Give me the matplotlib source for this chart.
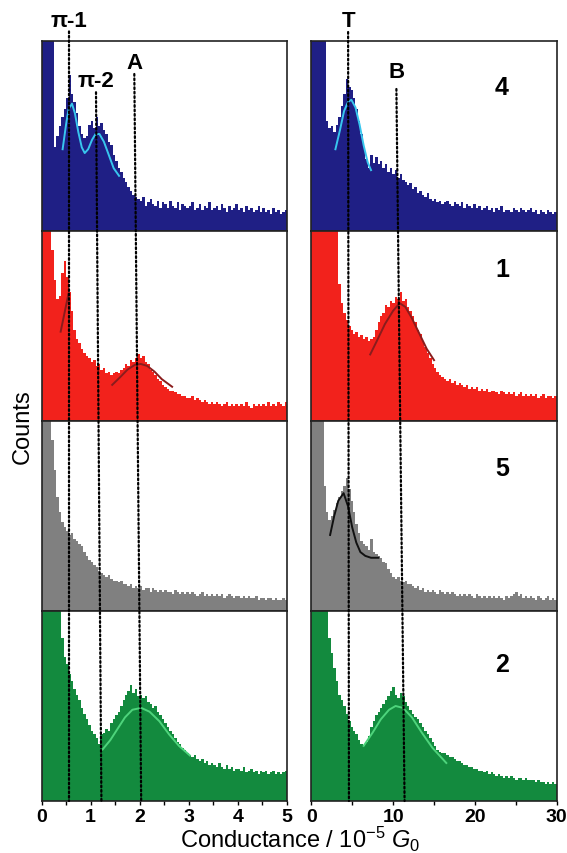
import numpy as np
import matplotlib
matplotlib.use('Agg')
from matplotlib import pyplot as plt
from matplotlib.patches import ConnectionPatch
from matplotlib.transforms import blended_transform_factory as blend

plt.rcParams['font.family'] = ['Liberation Sans', 'DejaVu Sans']
plt.rcParams['mathtext.fontset'] = 'custom'
plt.rcParams['mathtext.rm'] = 'Liberation Sans'
plt.rcParams['mathtext.it'] = 'Liberation Sans:italic'

# counts in % of panel height (clipped at 100), 100 bins per panel
navy_left = [100, 100, 100, 100, 100, 44, 50, 55, 60, 64,
             70, 82, 72, 68, 62, 55, 51, 49, 50, 56,
             58, 54, 60, 55, 57, 53, 51, 47, 45, 40,
             37, 33, 31, 28, 26, 23, 21, 19, 18, 17,
             16, 18, 13, 15, 17, 14, 13, 16, 12, 15,
             14, 12, 16, 13, 12, 15, 11, 14, 13, 12,
             13, 15, 11, 12, 14, 11, 13, 12, 15, 11,
             12, 13, 11, 14, 12, 10, 13, 11, 12, 14,
             11, 12, 10, 13, 11, 12, 10, 11, 13, 10,
             12, 10, 11, 9, 12, 10, 11, 9, 10, 11]
navy_right = [100, 100, 100, 100, 100, 100, 58, 54, 55, 52,
              56, 60, 66, 72, 80, 76, 74, 70, 64, 58,
              51, 44, 38, 33, 40, 36, 39, 35, 37, 33,
              35, 31, 33, 30, 32, 28, 30, 27, 26, 24,
              25, 22, 23, 20, 21, 19, 18, 20, 17, 16,
              17, 15, 16, 14, 15, 16, 14, 13, 15, 14,
              13, 15, 12, 14, 13, 12, 14, 12, 13, 11,
              12, 13, 11, 12, 10, 12, 11, 13, 10, 11,
              11, 10, 12, 11, 10, 12, 11, 10, 11, 12,
              10, 11, 9, 11, 10, 9, 11, 10, 9, 10]
red_left = [100, 100, 100, 100, 90, 74, 64, 66, 78, 84,
            76, 68, 58, 48, 43, 41, 38, 36, 34, 33,
            31, 32, 29, 30, 27, 28, 25, 26, 24, 25,
            26, 25, 27, 28, 30, 29, 32, 31, 33, 35,
            33, 34, 31, 30, 27, 26, 24, 22, 21, 19,
            18, 17, 16, 16, 15, 14, 14, 13, 13, 12,
            12, 13, 11, 12, 11, 10, 11, 10, 9, 10,
            9, 10, 9, 8, 9, 10, 8, 9, 8, 9,
            8, 9, 8, 10, 8, 7, 9, 8, 9, 8,
            9, 8, 10, 8, 9, 8, 10, 9, 8, 10]
red_right = [100, 100, 100, 100, 100, 100, 100, 100, 100, 100,
             100, 72, 62, 57, 53, 50, 48, 46, 47, 44,
             45, 43, 44, 42, 43, 44, 48, 52, 55, 57,
             61, 60, 63, 62, 65, 64, 68, 63, 64, 60,
             58, 55, 52, 48, 46, 42, 39, 36, 33, 30,
             28, 26, 24, 23, 22, 21, 22, 20, 21, 19,
             20, 19, 18, 19, 17, 18, 17, 18, 16, 17,
             16, 17, 15, 16, 16, 15, 14, 16, 15, 14,
             15, 14, 15, 13, 14, 15, 13, 14, 13, 14,
             13, 14, 12, 13, 14, 12, 13, 13, 12, 13]
gray_left = [100, 100, 100, 100, 90, 74, 60, 52, 47, 44,
             42, 40, 41, 38, 37, 35, 34, 31, 29, 27,
             26, 24, 23, 21, 20, 19, 18, 19, 17, 16,
             16, 15, 16, 14, 14, 13, 14, 12, 13, 12,
             13, 11, 12, 12, 10, 12, 11, 10, 11, 10,
             11, 10, 10, 9, 11, 10, 9, 10, 9, 10,
             9, 10, 9, 8, 9, 10, 8, 9, 8, 9,
             8, 9, 8, 9, 7, 8, 9, 8, 7, 8,
             8, 7, 8, 7, 8, 7, 7, 8, 6, 7,
             7, 6, 7, 7, 6, 7, 6, 6, 7, 6]
gray_right = [100, 100, 100, 100, 100, 66, 52, 48, 50, 53,
              57, 60, 63, 66, 70, 64, 58, 52, 46, 41,
              37, 35, 34, 32, 38, 31, 30, 29, 28, 26,
              25, 22, 20, 18, 17, 18, 16, 15, 16, 14,
              14, 13, 12, 13, 11, 12, 10, 11, 10, 11,
              10, 9, 11, 10, 9, 10, 9, 10, 9, 8,
              9, 8, 9, 8, 9, 8, 7, 9, 8, 7,
              8, 7, 8, 7, 8, 7, 8, 7, 6, 8,
              7, 8, 9, 10, 8, 9, 7, 8, 7, 8,
              7, 6, 8, 7, 6, 7, 8, 6, 7, 6]
green_left = [100, 100, 100, 100, 100, 100, 100, 100, 86, 76,
              72, 67, 63, 59, 56, 53, 49, 46, 43, 40,
              37, 35, 33, 30, 35, 36, 38, 37, 41, 43,
              45, 47, 50, 53, 56, 58, 61, 57, 59, 55,
              56, 54, 55, 52, 51, 49, 50, 47, 45, 43,
              41, 39, 37, 35, 33, 31, 30, 28, 27, 25,
              24, 23, 24, 22, 21, 22, 20, 21, 19, 20,
              19, 18, 20, 18, 17, 19, 17, 18, 16, 17,
              17, 16, 18, 15, 16, 17, 15, 16, 14, 16,
              15, 16, 14, 15, 16, 14, 15, 14, 15, 16]
green_right = [100, 100, 100, 100, 100, 100, 100, 86, 78, 70,
               63, 56, 53, 50, 46, 42, 39, 37, 35, 32,
               30, 29, 31, 34, 39, 42, 45, 47, 49, 51,
               53, 55, 58, 60, 56, 54, 57, 55, 52, 50,
               48, 46, 44, 43, 41, 39, 37, 35, 33, 31,
               29, 27, 26, 25, 25, 24, 23, 23, 22, 21,
               21, 20, 19, 19, 18, 18, 17, 17, 16, 16,
               15, 16, 14, 15, 14, 13, 14, 13, 12, 13,
               12, 13, 12, 11, 12, 12, 11, 12, 11, 11,
               11, 10, 11, 10, 10, 9, 10, 9, 10, 9]

# fitted peaks (x, % of height)
fit_navy_left_x = [0.43, 0.5, 0.55, 0.62, 0.68, 0.75, 0.82, 0.88, 0.95, 1.03, 1.1, 1.18, 1.27, 1.37, 1.47, 1.58]
fit_navy_left_y = [43, 56, 64, 67, 62, 52, 44, 41, 43, 48, 51, 51, 47, 40, 33, 29]
fit_navy_right_x = [2.95, 3.5, 4.0, 4.5, 4.9, 5.4, 5.9, 6.4, 6.9, 7.3]
fit_navy_right_y = [43, 53, 63, 68, 69, 65, 56, 45, 36, 32]
fit_red_left_x = [1.44, 1.6, 1.75, 1.9, 2.02, 2.15, 2.3, 2.45, 2.66]
fit_red_left_y = [19, 23, 27, 29.5, 30, 29, 26, 22, 18]
fit_red_small_x = [0.39, 0.47, 0.55]
fit_red_small_y = [47, 57, 67]
fit_red_right_x = [7.2, 8, 9, 10, 10.8, 11.5, 12.3, 13.2, 14.1, 15]
fit_red_right_y = [35, 42, 51, 58, 62, 60, 54, 46, 38, 32]
fit_gray_right_x = [2.3, 2.8, 3.3, 3.95, 4.5, 5.0, 5.5, 6.0, 6.6, 7.3, 8.2]
fit_gray_right_y = [40, 50, 58, 62, 55, 44, 36, 31, 29, 28, 28]
fit_green_left_x = [1.24, 1.4, 1.55, 1.7, 1.85, 2.03, 2.2, 2.4, 2.6, 2.8, 3.02]
fit_green_left_y = [27, 32, 38, 44, 48, 49, 47, 42, 35, 29, 24]
fit_green_right_x = [6.4, 7.5, 8.5, 9.5, 10.3, 11.2, 12.3, 13.5, 14.8, 16.5]
fit_green_right_y = [29, 36, 43, 48, 50, 49, 44, 36, 28, 20]

compounds = ['4', '1', '5', '2']
bar_colors = ['#1f1f85', '#f2221c', '#808080', '#138a3e']
left_data = [navy_left, red_left, gray_left, green_left]
right_data = [navy_right, red_right, gray_right, green_right]
left_fits = [[(fit_navy_left_x, fit_navy_left_y, '#38c6ee')],
             [(fit_red_small_x, fit_red_small_y, '#8a1c1c'), (fit_red_left_x, fit_red_left_y, '#8a1c1c')],
             [],
             [(fit_green_left_x, fit_green_left_y, '#4ed47c')]]
right_fits = [[(fit_navy_right_x, fit_navy_right_y, '#38c6ee')],
              [(fit_red_right_x, fit_red_right_y, '#8a1c1c')],
              [(fit_gray_right_x, fit_gray_right_y, '#111111')],
              [(fit_green_right_x, fit_green_right_y, '#4ed47c')]]

# reference lines: label, x at top, x at bottom, start (top-panel axes frac), label y
left_lines = [('π-1', 0.56, 0.56, 1.05, 1.105),
              ('π-2', 1.11, 1.22, 0.73, 0.79),
              ('A', 1.89, 2.03, 0.826, 0.885)]
right_lines = [('T', 4.5, 4.6, 1.047, 1.11),
               ('B', 10.4, 11.4, 0.747, 0.837)]

fig = plt.figure(figsize=(5.67, 8.54), dpi=100)
x_left, x_right, width = 0.0732, 0.549, 0.433
row_h, bottom = 0.2225, 0.0609

def style(ax, xmax, major, minor, last):
    ax.set_xlim(0, xmax)
    ax.set_ylim(0, 100)
    ax.set_yticks([])
    for s in ax.spines.values():
        s.set_linewidth(1.2)
        s.set_color('#222222')
    if last:
        majors = np.arange(0, xmax + 0.01, major)
        ax.set_xticks(majors)
        ax.set_xticks(np.arange(0, xmax + 0.01, minor), minor=True)
        ax.tick_params(axis='x', which='both', direction='out', length=3, width=1, pad=2)
        ax.set_xticklabels([f'{v:g}' for v in majors], fontweight='bold', fontsize=14)
    else:
        ax.set_xticks([])

axes_l, axes_r = [], []
for i in range(4):
    y0 = bottom + (3 - i) * row_h
    axl = fig.add_axes([x_left, y0, width, row_h])
    axr = fig.add_axes([x_right, y0, width, row_h])
    wl, wr = 5 / len(left_data[i]), 30 / len(right_data[i])
    axl.bar(np.arange(len(left_data[i])) * wl + wl / 2, left_data[i], width=wl,
            color=bar_colors[i], linewidth=0)
    axr.bar(np.arange(len(right_data[i])) * wr + wr / 2, right_data[i], width=wr,
            color=bar_colors[i], linewidth=0)
    for fx, fy, c in left_fits[i]:
        axl.plot(fx, fy, color=c, lw=1.4, zorder=3)
    for fx, fy, c in right_fits[i]:
        axr.plot(fx, fy, color=c, lw=1.4, zorder=3)
    style(axl, 5, 1, 0.5, i == 3)
    style(axr, 30, 10, 5, i == 3)
    axr.text(23.3, [0.76, 0.80, 0.75, 0.72][i], compounds[i], transform=blend(axr.transData, axr.transAxes),
             fontsize=18, fontweight='bold', ha='center', va='center')
    axes_l.append(axl)
    axes_r.append(axr)

for axes, lines in [(axes_l, left_lines), (axes_r, right_lines)]:
    top, bot = axes[0], axes[-1]
    for label, xt, xb, ys, yl in lines:
        con = ConnectionPatch(xyA=(xt, ys), coordsA=blend(top.transData, top.transAxes),
                              xyB=(xb, 0), coordsB=blend(bot.transData, bot.transAxes),
                              color='black', lw=1.6, linestyle=(0, (0.8, 1.2)), zorder=5)
        fig.add_artist(con)
        top.text(xt, yl, label, transform=blend(top.transData, top.transAxes),
                 fontsize=16, fontweight='bold', ha='center', va='center', clip_on=False)

fig.text(0.04, 0.5, 'Counts', rotation=90, fontsize=17, ha='center', va='center')
fig.text(0.53, 0.017, 'Conductance / 10$^{-5}$ $G_0$', fontsize=17, ha='center', va='center')

fig.savefig('out.png', dpi=100)
